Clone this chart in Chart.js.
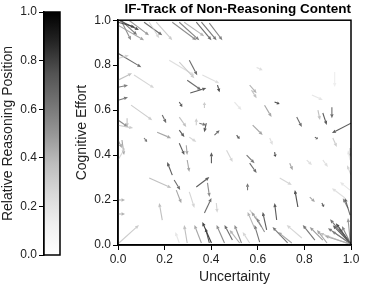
<!DOCTYPE html>
<html lang="en">
<head>
    <meta charset="UTF-8">
    <title>IF-Track of Non-Reasoning Content</title>
    <script src="https://cdn.jsdelivr.net/npm/chart.js"></script>
    <style>
        body {
            margin: 0;
            background: white;
            width: 365px;
            height: 286px;
            overflow: hidden;
            position: relative;
        }
        #barBox { position: absolute; left: 0; top: 0; width: 62px; height: 286px; }
        #mainBox { position: absolute; left: 62px; top: 0; width: 303px; height: 286px; }
    </style>
</head>
<body>
    <div id="barBox"><canvas id="colorbar"></canvas></div>
    <div id="mainBox"><canvas id="quiver"></canvas></div>

    <script>
        // each arrow: [uncertainty, effort, dU, dE, relative position]
        let topLeftArrows = [
            [0.004, 1.0, 0.086, -0.044, 0.85], [0.013, 1.0, 0.043, -0.089, 0.6],
            [0.017, 0.996, 0.065, -0.062, 0.7], [0.0, 0.991, 0.073, -0.022, 0.8],
            [0.0, 0.978, 0.112, -0.067, 0.5], [0.047, 1.0, 0.086, -0.067, 0.55],
            [0.112, 0.991, 0.078, -0.058, 0.75], [0.134, 0.991, 0.043, -0.071, 0.3],
            [0.164, 0.991, 0.069, -0.08, 0.35], [0.233, 0.991, 0.103, -0.08, 0.6],
            [0.263, 0.991, 0.086, -0.08, 0.65], [0.284, 0.991, 0.086, -0.062, 0.45],
            [0.336, 0.991, 0.065, -0.08, 0.75], [0.358, 0.991, 0.065, -0.08, 0.7],
            [0.392, 0.987, 0.056, -0.076, 0.65], [0.0, 0.853, 0.1, -0.062, 0.75],
            [0.004, 0.831, 0.043, 0.013, 0.3], [0.22, 0.822, 0.108, -0.067, 0.25],
            [0.306, 0.822, 0.034, -0.067, 0.75], [0.263, 0.813, 0.065, -0.071, 0.35],
            [0.362, 0.756, 0.073, -0.036, 0.25], [0.069, 0.756, 0.086, -0.058, 0.3],
            [0.0, 0.733, 0.06, 0.031, 0.4], [0.0, 0.702, 0.043, 0.009, 0.65],
            [0.297, 0.733, 0.06, -0.044, 0.75], [0.31, 0.676, 0.069, 0.022, 0.8],
            [0.427, 0.711, 0.009, -0.031, 0.85]
        ];
        let topRightArrows = [
            [0.595, 0.79, 0.026, -0.013, 0.25], [0.565, 0.711, 0.03, -0.036, 0.45],
            [0.93, 0.77, 0.0, -0.067, 0.15]
        ];
        let midLeftArrows = [
            [0.0, 0.644, 0.043, 0.013, 0.7], [0.056, 0.622, 0.091, -0.067, 0.35],
            [0.0, 0.556, 0.043, -0.031, 0.6], [0.0, 0.533, 0.065, -0.013, 0.35],
            [0.039, 0.564, 0.0, -0.04, 0.4], [0.0, 0.467, 0.017, -0.036, 0.5],
            [0.017, 0.467, 0.009, -0.067, 0.5], [0.0, 0.378, 0.03, 0.053, 0.3],
            [0.263, 0.636, 0.013, -0.022, 0.8], [0.371, 0.609, 0.0, 0.027, 0.35],
            [0.19, 0.578, 0.017, -0.036, 0.75], [0.263, 0.569, 0.03, -0.044, 0.4],
            [0.336, 0.533, 0.0, 0.031, 0.35], [0.349, 0.542, 0.03, -0.009, 0.7],
            [0.379, 0.542, -0.009, -0.04, 0.8], [0.168, 0.502, 0.06, -0.027, 0.5],
            [0.263, 0.511, 0.022, -0.031, 0.8], [0.414, 0.489, 0.022, 0.022, 0.75],
            [0.306, 0.48, 0.03, -0.022, 0.3], [0.112, 0.476, 0.013, -0.018, 0.7],
            [0.263, 0.453, 0.022, -0.053, 0.8], [0.293, 0.444, 0.004, -0.044, 0.5],
            [0.401, 0.364, 0.0, 0.049, 0.8], [0.466, 0.422, 0.026, -0.053, 0.3],
            [0.233, 0.311, -0.022, 0.058, 0.8], [0.297, 0.378, 0.009, -0.053, 0.5],
            [0.241, 0.289, 0.026, -0.044, 0.75], [0.134, 0.298, 0.095, -0.044, 0.4],
            [0.336, 0.258, 0.056, 0.044, 0.8], [0.384, 0.276, 0.009, -0.062, 0.6],
            [0.371, 0.142, 0.03, 0.067, 0.75], [0.19, 0.111, -0.013, 0.076, 0.4],
            [0.25, 0.244, 0.022, -0.058, 0.5], [0.306, 0.236, 0.022, -0.071, 0.3],
            [0.422, 0.187, 0.004, -0.044, 0.3], [0.0, 0.2, 0.03, 0.0, 0.45],
            [0.0, 0.138, 0.03, 0.0, 0.45], [0.004, 0.009, 0.086, 0.08, 0.35]
        ];
        let midRightArrows = [
            [0.552, 0.4, 0.034, -0.036, 0.7], [0.565, 0.364, 0.03, -0.044, 0.75],
            [0.565, 0.156, 0.034, -0.044, 0.3], [0.672, 0.636, 0.022, -0.009, 0.85],
            [0.832, 0.667, 0.047, -0.022, 0.2], [0.573, 0.689, 0.022, -0.036, 0.4],
            [0.629, 0.622, 0.03, -0.053, 0.5], [0.5, 0.636, 0.03, -0.036, 0.2],
            [0.767, 0.569, 0.022, -0.044, 0.75], [0.858, 0.6, 0.009, -0.044, 0.4],
            [0.879, 0.587, 0.017, -0.053, 0.8], [0.918, 0.613, 0.0, -0.049, 0.75],
            [0.578, 0.533, 0.043, -0.044, 0.5], [1.0, 0.542, -0.082, -0.044, 0.8],
            [0.509, 0.489, 0.013, -0.018, 0.8], [0.845, 0.48, 0.013, -0.009, 0.8],
            [0.922, 0.476, 0.017, -0.04, 0.35], [0.651, 0.476, 0.013, -0.031, 0.25],
            [0.672, 0.413, 0.004, -0.022, 0.85], [0.996, 0.431, 0.0, -0.04, 0.4],
            [0.737, 0.364, 0.013, -0.031, 0.5], [0.879, 0.378, 0.022, -0.031, 0.25],
            [0.81, 0.378, 0.022, -0.022, 0.25], [0.556, 0.244, 0.0, 0.031, 0.7],
            [0.694, 0.298, 0.052, -0.031, 0.3], [0.772, 0.169, -0.013, 0.076, 0.85],
            [0.823, 0.213, 0.022, -0.022, 0.5], [0.875, 0.187, 0.009, -0.018, 0.8],
            [0.987, 0.164, -0.022, 0.044, 0.6], [0.974, 0.209, -0.056, 0.044, 0.25],
            [0.996, 0.244, -0.043, 0.036, 0.2], [1.0, 0.311, -0.017, 0.044, 0.3],
            [0.996, 0.378, -0.009, 0.044, 0.2]
        ];
        let bottomArrows = [
            [0.681, 0.111, -0.009, 0.076, 0.8], [0.638, 0.067, -0.017, 0.08, 0.8],
            [0.616, 0.08, -0.043, 0.067, 0.5], [0.629, 0.058, -0.034, 0.062, 0.6],
            [0.608, 0.013, -0.022, 0.076, 0.7], [0.53, 0.009, -0.03, 0.08, 0.6],
            [0.728, 0.009, -0.065, 0.071, 0.7], [0.746, 0.009, -0.06, 0.049, 0.5],
            [0.789, 0.031, -0.065, 0.058, 0.3], [0.845, 0.022, -0.052, 0.067, 0.7],
            [0.879, 0.022, -0.056, 0.058, 0.55], [0.897, 0.009, -0.043, 0.058, 0.5],
            [0.297, 0.009, -0.013, 0.08, 0.4], [0.358, 0.009, -0.03, 0.08, 0.5],
            [0.401, 0.009, -0.039, 0.093, 0.9], [0.457, 0.009, -0.034, 0.08, 0.6],
            [0.491, 0.022, -0.034, 0.067, 0.75], [0.392, 0.009, -0.017, 0.067, 0.8],
            [0.522, 0.009, -0.043, 0.058, 0.45], [0.565, 0.009, -0.03, 0.049, 0.3],
            [0.263, 0.009, -0.017, 0.049, 0.2], [0.586, 0.076, -0.03, 0.071, 0.45]
        ];
        let cornerArrows = [
            [1.0, 0.004, -0.099, 0.071, 0.7], [1.0, 0.004, -0.078, 0.084, 0.8],
            [1.0, 0.004, -0.082, 0.058, 0.6], [1.0, 0.004, -0.065, 0.093, 0.85],
            [1.0, 0.004, -0.052, 0.071, 0.75], [1.0, 0.004, -0.112, 0.036, 0.5],
            [1.0, 0.004, -0.039, 0.08, 0.65], [0.996, 0.022, -0.009, 0.098, 0.55],
            [0.991, 0.004, -0.125, 0.049, 0.4], [1.0, 0.004, -0.09, 0.11, 0.7],
            [0.996, 0.133, -0.022, 0.076, 0.75]
        ];
        let axisTicks = [0, 0.2, 0.4, 0.6, 0.8, 1.0];
        let greyStops = [255, 240, 217, 189, 150, 115, 82, 37, 0]; // matplotlib Greys

        let allArrows = [].concat(topLeftArrows, topRightArrows, midLeftArrows,
                                  midRightArrows, bottomArrows, cornerArrows);

        Chart.defaults.font.family = "'Liberation Sans', Arial, sans-serif";
        Chart.defaults.color = '#222';

        function grey(c) {
            let p = Math.max(0, Math.min(1, c)) * 8;
            let i = Math.min(7, Math.floor(p));
            let g = Math.round(greyStops[i] + (greyStops[i + 1] - greyStops[i]) * (p - i));
            return `rgb(${g},${g},${g})`;
        }

        function fixedTicks(scale) {
            scale.ticks = axisTicks.map(v => ({ value: v }));
        }

        function axisOpts(title, pad) {
            return {
                min: 0, max: 1,
                afterBuildTicks: fixedTicks,
                ticks: { callback: v => v.toFixed(1), font: { size: 12 }, color: '#222', padding: 2, maxRotation: 0 },
                grid: { drawOnChartArea: false, tickLength: 5, color: '#000', lineWidth: 1 },
                border: { color: '#000', width: 1.5 },
                title: { display: true, text: title, font: { size: 14 }, color: '#222', padding: pad }
            };
        }

        const quiverPlugin = {
            id: 'quiver',
            afterDatasetsDraw(chart) {
                const { ctx, chartArea: a, scales: { x, y } } = chart;
                ctx.save();
                ctx.beginPath();
                ctx.rect(a.left, a.top, a.width, a.height);
                ctx.clip();
                ctx.globalAlpha = 0.85;
                allArrows.forEach(([x0, y0, u, v, c]) => {
                    let px0 = x.getPixelForValue(x0), py0 = y.getPixelForValue(y0);
                    let px1 = x.getPixelForValue(x0 + u), py1 = y.getPixelForValue(y0 + v);
                    let len = Math.hypot(px1 - px0, py1 - py0);
                    let ang = Math.atan2(py1 - py0, px1 - px0);
                    let hl = Math.min(4, len * 0.5), hw = 1.7;
                    let bx = px1 - hl * Math.cos(ang), by = py1 - hl * Math.sin(ang);
                    ctx.strokeStyle = grey(c);
                    ctx.fillStyle = grey(c);
                    ctx.lineWidth = 1.1;
                    ctx.beginPath();
                    ctx.moveTo(px0, py0);
                    ctx.lineTo(bx, by);
                    ctx.stroke();
                    ctx.beginPath();
                    ctx.moveTo(px1, py1);
                    ctx.lineTo(bx + hw * Math.sin(ang), by - hw * Math.cos(ang));
                    ctx.lineTo(bx - hw * Math.sin(ang), by + hw * Math.cos(ang));
                    ctx.closePath();
                    ctx.fill();
                });
                ctx.restore();
                ctx.save();
                ctx.strokeStyle = '#000';
                ctx.lineWidth = 1.5;
                ctx.strokeRect(a.left, a.top, a.width, a.height);
                ctx.restore();
            }
        };

        const gradientPlugin = {
            id: 'gradientBar',
            beforeDatasetsDraw(chart) {
                const { ctx, chartArea: a } = chart;
                let grad = ctx.createLinearGradient(0, a.bottom, 0, a.top);
                greyStops.forEach((g, i) => grad.addColorStop(i / 8, `rgb(${g},${g},${g})`));
                ctx.save();
                ctx.fillStyle = grad;
                ctx.fillRect(a.left, a.top, a.width, a.height);
                ctx.strokeStyle = '#000';
                ctx.lineWidth = 1.5;
                ctx.strokeRect(a.left, a.top, a.width, a.height);
                ctx.restore();
            }
        };

        let barY = axisOpts('Relative Reasoning Position', { top: 0, bottom: 0 });
        barY.afterFit = s => { s.width = 44; };
        new Chart(document.getElementById('colorbar'), {
            type: 'scatter',
            data: { datasets: [] },
            options: {
                responsive: true, maintainAspectRatio: false, animation: false,
                layout: { padding: { top: 12, right: 2, bottom: 31, left: 0 } },
                plugins: { legend: { display: false }, tooltip: { enabled: false } },
                scales: { x: { display: false, min: 0, max: 1 }, y: barY }
            },
            plugins: [gradientPlugin]
        });

        let mainX = axisOpts('Uncertainty', { top: 2, bottom: 0 });
        mainX.afterFit = s => { s.height = 41; };
        let mainY = axisOpts('Cognitive Effort', { top: 12, bottom: 0 });
        mainY.afterFit = s => { s.width = 56; };
        new Chart(document.getElementById('quiver'), {
            type: 'scatter',
            data: { datasets: [] },
            options: {
                responsive: true, maintainAspectRatio: false, animation: false,
                layout: { padding: { top: 0, right: 14, bottom: 0, left: 0 } },
                plugins: {
                    legend: { display: false },
                    tooltip: { enabled: false },
                    title: {
                        display: true, text: 'IF-Track of Non-Reasoning Content',
                        align: 'end',
                        font: { size: 13.5, weight: 'bold' }, color: '#000',
                        padding: { top: 1, bottom: 3 }
                    }
                },
                scales: { x: mainX, y: mainY }
            },
            plugins: [quiverPlugin]
        });
    </script>
</body>
</html>
